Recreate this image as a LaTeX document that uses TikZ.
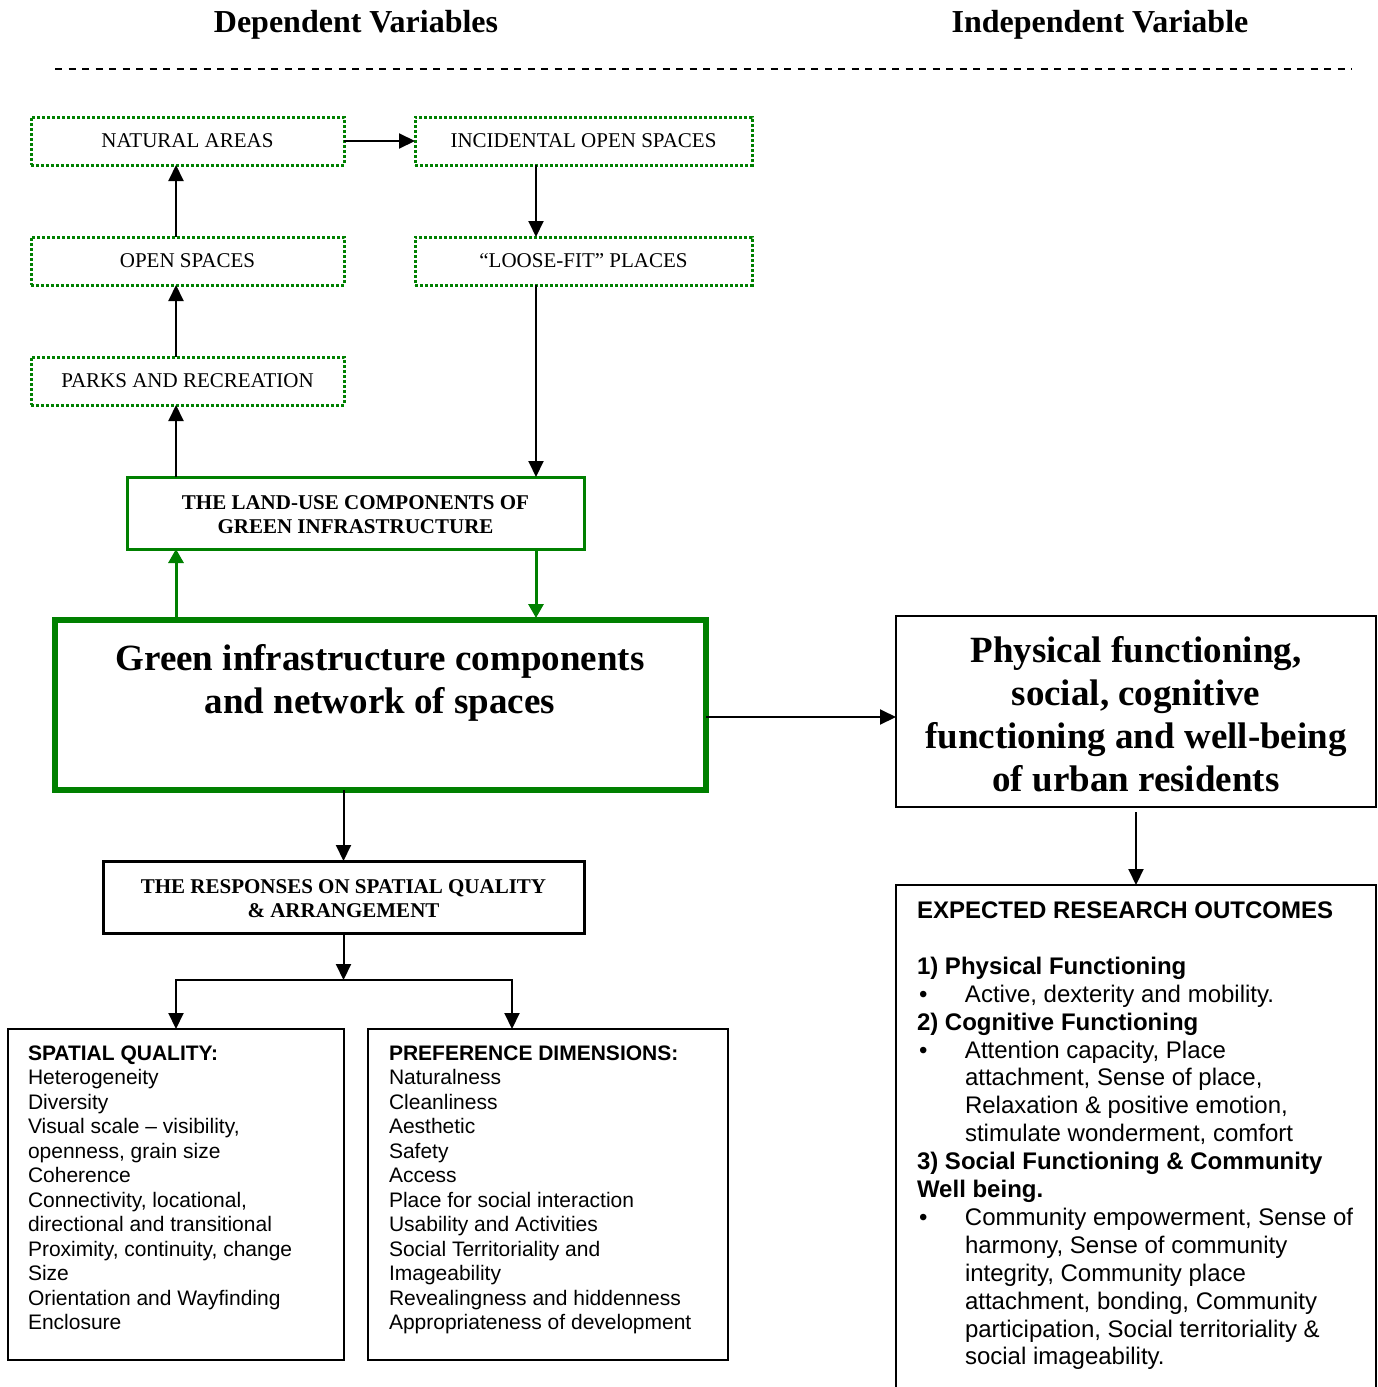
\documentclass[tikz,border=0pt]{standalone}
\usepackage{fontspec}
\setmainfont{Liberation Serif}
\setsansfont{Liberation Sans}
\usetikzlibrary{arrows.meta,calc}
\definecolor{gigreen}{RGB}{0,128,0}
\begin{document}
\begin{tikzpicture}[x=1pt,y=-1pt,
  every node/.style={inner sep=0pt,outer sep=0pt},
  dotbox/.style={draw=gigreen,line width=3pt,dash pattern=on 3pt off 2pt,
    minimum height=48pt,font=\fontsize{21}{25}\selectfont},
  greenbox/.style={draw=gigreen,line width=3pt},
  boldsmall/.style={align=center,font=\bfseries\fontsize{21}{24}\selectfont},
  blackbox/.style={draw=black,line width=2pt},
  arr/.style={line width=2pt,-{Triangle[length=16pt,width=15pt]}},
  garr/.style={line width=3pt,draw=gigreen,-{Triangle[length=14pt,width=15pt,fill=gigreen]}},
  listtext/.style={anchor=north west,align=left,font=\sffamily\fontsize{21}{24.45}\selectfont},
  bigtext/.style={align=center,font=\bfseries\fontsize{37}{43}\selectfont},
  titletext/.style={font=\bfseries\fontsize{32}{36}\selectfont}
]
\useasboundingbox (0,0) rectangle (1378,1387);

% titles and dashed rule
\node[titletext] (tdep) at (356,25) {Dependent Variables};
\node[titletext] (tind) at (1100,25) {Independent Variable};
\coordinate (dl) at (55,69);
\coordinate (dr) at (1352,69);
\draw[line width=2pt,dash pattern=on 7pt off 6.5pt] (dl) -- (dr);

% helper positions
\coordinate (xl) at (176,0);
\coordinate (xr) at (536,0);
\coordinate (xp) at (512,0);
\coordinate (ya) at (0,717);

% dotted green boxes
\node[dotbox,minimum width=313pt] (natural) at (187.5,141) {NATURAL AREAS};
\node[dotbox,minimum width=337pt] (incidental) at (583.5,141) {INCIDENTAL OPEN SPACES};
\node[dotbox,minimum width=313pt] (open) at (187.5,261) {OPEN SPACES};
\node[dotbox,minimum width=337pt] (loose) at (583.5,261) {“LOOSE-FIT” PLACES};
\node[dotbox,minimum width=313pt] (parks) at (187.5,381) {PARKS AND RECREATION};

% land-use box
\node[greenbox,minimum width=457pt,minimum height=72pt] (landuse) at (355.5,513) {};
\node[boldsmall] (landusetext) at (355.5,515)
  {THE LAND-USE COMPONENTS OF\\GREEN INFRASTRUCTURE};

% main box
\node[draw=gigreen,line width=6.5pt,minimum width=651pt,minimum height=170pt] (main) at (380.5,705) {};
\node[bigtext] (maintext) at (380,683) {Green infrastructure components\\and network of spaces};

% physical box
\node[blackbox,minimum width=480pt,minimum height=191pt] (physical) at (1136,711.5) {};
\node[bigtext] (physicaltext) at (1136,714.5)
  {Physical functioning,\\social, cognitive\\functioning and well-being\\of urban residents};

% responses box
\node[draw=black,line width=3pt,minimum width=481pt,minimum height=72pt] (responses) at (343.5,897) {};
\node[boldsmall] (responsestext) at (343.5,899)
  {THE RESPONSES ON SPATIAL QUALITY\\\& ARRANGEMENT};

% lower boxes
\node[blackbox,minimum width=336pt,minimum height=331pt] (spatial) at (176,1194.5) {};
\node[blackbox,minimum width=360pt,minimum height=331pt] (pref) at (548,1194.5) {};
\node[listtext] (spatialtext) at (28,1043.4) {\strut\textbf{SPATIAL QUALITY:}\\
Heterogeneity\\
Diversity\\
Visual scale – visibility,\\
openness, grain size\\
Coherence\\
Connectivity, locational,\\
directional and transitional\\
Proximity, continuity, change\\
Size\\
Orientation and Wayfinding\\
Enclosure};
\node[listtext] (preftext) at (389,1043.4) {\strut\textbf{PREFERENCE DIMENSIONS:}\\
Naturalness\\
Cleanliness\\
Aesthetic\\
Safety\\
Access\\
Place for social interaction\\
Usability and Activities\\
Social Territoriality and\\
Imageability\\
Revealingness and hiddenness\\
Appropriateness of development};

% expected outcomes (open bottom frame)
\coordinate (eotl) at (896,885);
\coordinate (eotr) at (1376,885);
\coordinate (eobl) at (896,1392);
\coordinate (eobr) at (1376,1392);
\draw[line width=2pt] (eobl) -- (eotl) -- (eotr) -- (eobr);
\newcommand{\bul}{\makebox[48pt][l]{\hspace{2pt}•}}
\newcommand{\ind}{\hspace*{48pt}}
\node[anchor=north west,align=left,font=\sffamily\fontsize{24}{27.9}\selectfont] (outcomes) at (917,899)
{\strut\textbf{EXPECTED RESEARCH OUTCOMES}\\
\strut\\
\textbf{1) Physical Functioning}\\
\bul Active, dexterity and mobility.\\
\textbf{2) Cognitive Functioning}\\
\bul Attention capacity, Place\\
\ind attachment, Sense of place,\\
\ind Relaxation \& positive emotion,\\
\ind stimulate wonderment, comfort\\
\textbf{3) Social Functioning \& Community}\\
\textbf{Well being.}\\
\bul Community empowerment, Sense of\\
\ind harmony, Sense of community\\
\ind integrity, Community place\\
\ind attachment, bonding, Community\\
\ind participation, Social territoriality \&\\
\ind social imageability.};

% connectors
\draw[arr] (parks.north -| xl) -- (open.south -| xl);
\draw[arr] (open.north -| xl) -- (natural.south -| xl);
\draw[arr] (natural.east) -- (incidental.west);
\draw[arr] (incidental.south -| xr) -- (loose.north -| xr);
\draw[arr] (loose.south -| xr) -- (landuse.north -| xr);
\draw[arr] (landuse.north -| xl) -- (parks.south -| xl);
\draw[garr] (main.north -| xl) -- (landuse.south -| xl);
\draw[garr,shorten >=2pt] (landuse.south -| xr) -- (main.north -| xr);
\draw[arr] (main.east |- ya) -- (physical.west |- ya);
\draw[arr,shorten <=5pt] (physical.south) -- (eotl -| physical.south);
\draw[arr] (main.south -| responses.north) -- (responses.north);
\coordinate (split) at (343.5,980);
\draw[arr] (responses.south) -- (split);
\draw[arr] (split) -| (spatial.north -| xl);
\draw[arr] (split) -| (pref.north -| xp);
\end{tikzpicture}
\end{document}
